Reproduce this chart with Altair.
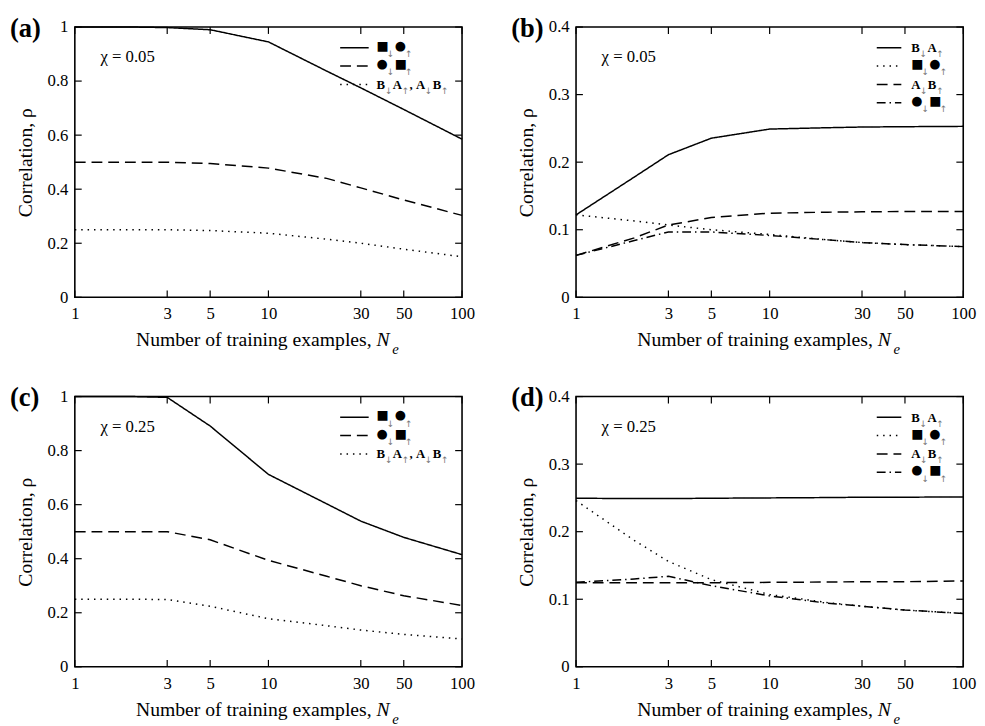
import altair as alt
import pandas as pd

# ---------------- data ----------------
N_E = [1, 2, 3, 5, 10, 20, 30, 50, 100]
X_TICKS = [1, 3, 5, 10, 30, 50, 100]
Y_TICKS_1 = [0, 0.2, 0.4, 0.6, 0.8, 1.0]
Y_TICKS_04 = [0, 0.1, 0.2, 0.3, 0.4]

# legend labels
LEG_3 = ["■↓●↑", "●↓■↑", "B↓A↑, A↓B↑"]
LEG_4 = ["B↓A↑", "■↓●↑", "A↓B↑", "●↓■↑"]

# (a) chi = 0.05
A_SQ_CI = [1.0, 1.0, 0.998, 0.99, 0.945, 0.837, 0.775, 0.695, 0.585]
A_CI_SQ = [0.5, 0.5, 0.5, 0.495, 0.478, 0.44, 0.405, 0.36, 0.303]
A_BA_AB = [0.25, 0.25, 0.25, 0.247, 0.237, 0.215, 0.2, 0.178, 0.15]

# (b) chi = 0.05
B_BA = [0.122, 0.178, 0.211, 0.2355, 0.249, 0.251, 0.252, 0.2525, 0.253]
B_SQ_CI = [0.122, 0.113, 0.107, 0.1, 0.093, 0.085, 0.081, 0.078, 0.075]
B_AB = [0.062, 0.088, 0.107, 0.118, 0.1245, 0.126, 0.1265, 0.127, 0.127]
B_CI_SQ = [0.062, 0.084, 0.0967, 0.0967, 0.0915, 0.085, 0.081, 0.078, 0.075]

# (c) chi = 0.25
C_SQ_CI = [1.0, 1.0, 0.997, 0.891, 0.712, 0.603, 0.539, 0.479, 0.415]
C_CI_SQ = [0.5, 0.5, 0.5, 0.47, 0.394, 0.335, 0.30, 0.263, 0.227]
C_BA_AB = [0.25, 0.25, 0.249, 0.224, 0.178, 0.152, 0.136, 0.12, 0.103]

# (d) chi = 0.25
D_BA = [0.2495, 0.249, 0.249, 0.2495, 0.25, 0.2505, 0.251, 0.251, 0.2515]
D_SQ_CI = [0.246, 0.187, 0.156, 0.129, 0.107, 0.095, 0.0897, 0.084, 0.079]
D_AB = [0.1245, 0.1245, 0.1245, 0.1245, 0.125, 0.1255, 0.126, 0.126, 0.127]
D_CI_SQ = [0.125, 0.13, 0.134, 0.12, 0.105, 0.094, 0.0897, 0.084, 0.079]

# ---------------- styling ----------------
W, H = 394, 275
SERIF = "Liberation Serif"
SYM = "DejaVu Sans"
SOLID = [1, 0]
DASH = [11, 6]
DOT = [1.5, 5]
DASHDOT = [9, 4, 1.5, 4]
LW = 1.5

ADV = {"■": 10.5, "●": 10.5, "A": 9.0, "B": 8.6, "↓": 8.0, "↑": 8.0, ",": 4.0, " ": 2.5}


def piece(txt, x, y, size, font, weight="normal", color="black", align="left",
          baseline="middle", style="normal"):
    return alt.Chart(pd.DataFrame({"t": [txt]})).mark_text(
        align=align, baseline=baseline, font=font, fontSize=size,
        fontWeight=weight, fontStyle=style, color=color
    ).encode(text="t:N", x=alt.value(x), y=alt.value(y))


def legend_label(label, x0, y):
    layers = []
    x = x0
    for ch in label:
        if ch in "■●":
            layers.append(piece(ch, x, y - 2, 13, SYM))
        elif ch in "AB,":
            layers.append(piece(ch, x, y + 4.5, 13, SERIF, weight="bold", baseline="alphabetic"))
        elif ch in "↓↑":
            layers.append(piece(ch, x, y + 6.5, 9, SYM, color="#777777"))
        x += ADV[ch]
    return layers


def panel(tag, chi, names, dashes, series, yticks, ymax, leg_x1, leg_x2, leg_tx):
    xscale = alt.Scale(type="log", domain=[1, 100], nice=False)
    yscale = alt.Scale(domain=[0, ymax], nice=False, zero=True)

    layers = []
    for k, (name, dash, vals) in enumerate(zip(names, dashes, series)):
        df = pd.DataFrame({"n": N_E, "rho": vals})
        if k == 0:
            xenc = alt.X("n:Q", scale=xscale,
                         axis=alt.Axis(values=X_TICKS, ticks=False, domain=False,
                                       grid=False, title=None, labelPadding=9,
                                       labelFlush=False, labelOverlap=False,
                                       labelExpr="format(datum.value, '~g')"))
            yenc = alt.Y("rho:Q", scale=yscale,
                         axis=alt.Axis(values=yticks, ticks=False, domain=False,
                                       grid=False, title="Correlation, ρ", labelPadding=7,
                                       titlePadding=12, labelFlush=False, labelOverlap=False,
                                       labelExpr="format(datum.value, '~g')"))
        else:
            xenc = alt.X("n:Q", scale=xscale, axis=None)
            yenc = alt.Y("rho:Q", scale=yscale, axis=None)
        layers.append(
            alt.Chart(df).mark_line(color="black", strokeWidth=LW, strokeDash=dash)
            .encode(x=xenc, y=yenc)
        )

    xt = pd.DataFrame({"t": X_TICKS})
    yt = pd.DataFrame({"v": yticks})
    tick_style = dict(color="black", strokeWidth=1.2)
    layers.append(alt.Chart(xt).mark_rule(**tick_style).encode(
        x=alt.X("t:Q", scale=xscale, axis=None), y=alt.value(H), y2=alt.value(H - 7)))
    layers.append(alt.Chart(xt).mark_rule(**tick_style).encode(
        x=alt.X("t:Q", scale=xscale, axis=None), y=alt.value(0), y2=alt.value(7)))
    layers.append(alt.Chart(yt).mark_rule(**tick_style).encode(
        y=alt.Y("v:Q", scale=yscale, axis=None), x=alt.value(0), x2=alt.value(7)))
    layers.append(alt.Chart(yt).mark_rule(**tick_style).encode(
        y=alt.Y("v:Q", scale=yscale, axis=None), x=alt.value(W - 7), x2=alt.value(W)))

    # legend
    for i, (name, dash) in enumerate(zip(names, dashes)):
        y = 21 + 18.7 * i
        layers.append(
            alt.Chart(pd.DataFrame({"a": [0]})).mark_rule(
                color="black", strokeWidth=LW, strokeDash=dash
            ).encode(x=alt.value(leg_x1), x2=alt.value(leg_x2), y=alt.value(y))
        )
        layers += legend_label(name, leg_tx, y)

    # chi annotation
    layers.append(piece(chi, 26, 31, 17, SERIF))
    # panel tag
    layers.append(piece(tag, -66, 2, 27, SERIF, weight="bold"))
    # x title with italic N_e
    layers.append(piece("Number of training examples,", 302, H + 50, 20, SERIF,
                        align="right", baseline="alphabetic"))
    layers.append(piece("N", 307, H + 50, 20, SERIF, style="italic", baseline="alphabetic"))
    layers.append(piece("e", 323, H + 58, 15, SERIF, style="italic", baseline="alphabetic"))

    return alt.layer(*layers).resolve_axis(x="independent", y="independent").properties(
        width=W, height=H)


pa = panel("(a)", "χ = 0.05", LEG_3, [SOLID, DASH, DOT],
           [A_SQ_CI, A_CI_SQ, A_BA_AB], Y_TICKS_1, 1.0, 270, 299, 307)
pb = panel("(b)", "χ = 0.05", LEG_4, [SOLID, DOT, DASH, DASHDOT],
           [B_BA, B_SQ_CI, B_AB, B_CI_SQ], Y_TICKS_04, 0.4, 306, 331, 341)
pc = panel("(c)", "χ = 0.25", LEG_3, [SOLID, DASH, DOT],
           [C_SQ_CI, C_CI_SQ, C_BA_AB], Y_TICKS_1, 1.0, 270, 299, 307)
pd_ = panel("(d)", "χ = 0.25", LEG_4, [SOLID, DOT, DASH, DASHDOT],
            [D_BA, D_SQ_CI, D_AB, D_CI_SQ], Y_TICKS_04, 0.4, 306, 331, 341)

chart = alt.vconcat(
    alt.hconcat(pa, pb, spacing=35),
    alt.hconcat(pc, pd_, spacing=35),
    spacing=26,
).properties(
    padding={"left": 1, "top": 0, "right": 0, "bottom": 0}
).configure_view(
    stroke="black", strokeWidth=1.6
).configure_axis(
    labelFont=SERIF, labelFontSize=17, labelColor="black",
    titleFont=SERIF, titleFontSize=20, titleFontWeight="normal", titleColor="black"
)

chart.save("out.html", embed_options={"renderer": "svg", "actions": False})
